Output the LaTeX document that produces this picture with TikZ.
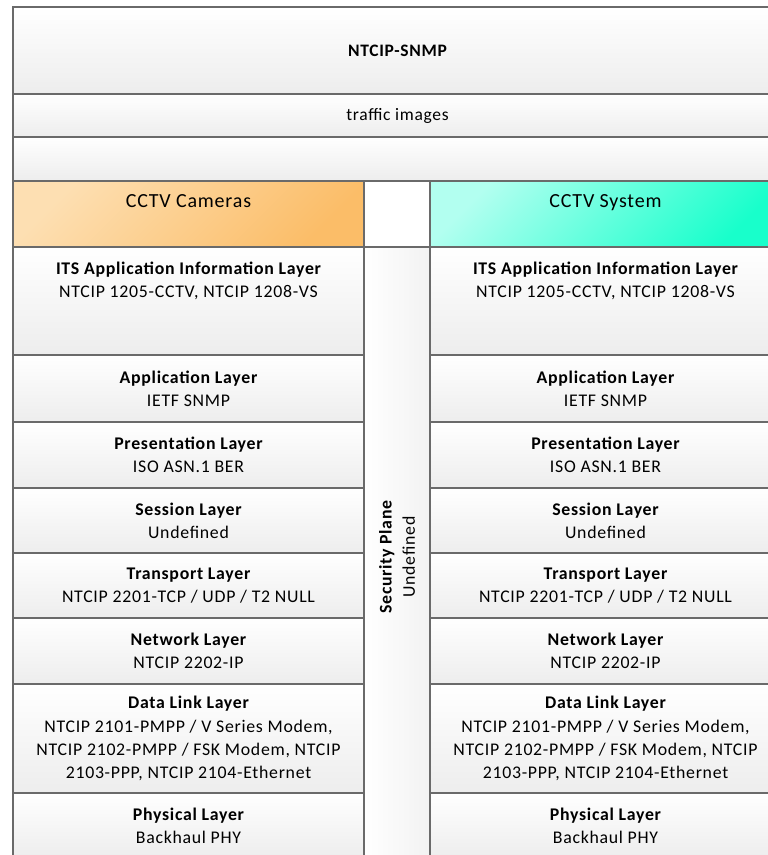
\documentclass[tikz,border=0pt]{standalone}
\usepackage{fontspec}
\setmainfont{Carlito}[LetterSpace=4]
\usetikzlibrary{positioning}
\definecolor{frame}{HTML}{6A6A6A}
\definecolor{boxgray}{HTML}{EDEDED}
\definecolor{camlight}{HTML}{FDDFB2}
\definecolor{camdark}{HTML}{FBBD68}
\definecolor{syslight}{HTML}{B2FFF0}
\definecolor{sysdark}{HTML}{18FFCB}

\begin{document}
\begin{tikzpicture}[
    x=1pt, y=-1pt,
    cell/.style={draw=frame, line width=1.2pt, anchor=north west,
        inner sep=0pt, outer sep=0pt, align=center,
        top color=white, bottom color=boxgray},
    band/.style={cell, minimum width=769pt, minimum height=#1,
        font=\fontsize{17.5}{20}\selectfont},
    layer/.style={cell, minimum width=351pt, minimum height=#1,
        font=\fontsize{17.8}{23.2}\selectfont},
    head/.style={cell, minimum width=351pt, minimum height=66pt,
        font=\fontsize{20}{24}\selectfont, text depth=26pt},
    lbl/.style={inner sep=0pt, align=center,
        font=\fontsize{17.8}{23.2}\selectfont}
]
    \useasboundingbox (0,0) rectangle (768,855);
    \clip (0,0) rectangle (768,855);

    % top bands
    \node[band=87pt] (snmp) at (13,7) {\bfseries NTCIP-SNMP};
    \node[band=43pt] (img) at (13,94) {traffic images};
    \node[band=44pt] (gap) at (13,137) {};

    % device headers
    \node[head, top color=camlight, bottom color=camdark, shading angle=45]
        (cam) at (13,181) {CCTV Cameras};
    \node[cell, top color=white, bottom color=white,
        minimum width=66pt, minimum height=66pt] (mid) at (364,181) {};
    \node[head, top color=syslight, bottom color=sysdark, shading angle=45]
        (sys) at (430,181) {CCTV System};

    % security plane
    \node[cell, left color=white, right color=boxgray!70,
        minimum width=66pt, minimum height=620pt] (sec) at (364,247) {};
    \node[lbl, rotate=90] at (sec.center)
        {\bfseries Security Plane\\Undefined};

    % CCTV Cameras stack
    \node[layer=108pt] (lits) at (13,247) {};
    \node[lbl, below=15pt of lits.north]
        {\bfseries ITS Application Information Layer\\NTCIP 1205-CCTV, NTCIP 1208-VS};
    \node[layer=67pt] (lapp) at (13,355)
        {\bfseries Application Layer\\IETF SNMP};
    \node[layer=66pt] (lpres) at (13,422)
        {\bfseries Presentation Layer\\ISO ASN.1 BER};
    \node[layer=65pt] (lses) at (13,488)
        {\bfseries Session Layer\\Undefined};
    \node[layer=65pt] (ltrans) at (13,553)
        {\bfseries Transport Layer\\NTCIP 2201-TCP / UDP / T2 NULL};
    \node[layer=66pt] (lnet) at (13,618)
        {\bfseries Network Layer\\NTCIP 2202-IP};
    \node[layer=109pt] (llink) at (13,684)
        {\bfseries Data Link Layer\\NTCIP 2101-PMPP / V Series Modem,\\
         NTCIP 2102-PMPP / FSK Modem, NTCIP\\2103-PPP, NTCIP 2104-Ethernet};
    \node[layer=66pt] (lphy) at (13,793)
        {\bfseries Physical Layer\\Backhaul PHY};

    % CCTV System stack
    \node[layer=108pt] (rits) at (430,247) {};
    \node[lbl, below=15pt of rits.north]
        {\bfseries ITS Application Information Layer\\NTCIP 1205-CCTV, NTCIP 1208-VS};
    \node[layer=67pt] (rapp) at (430,355)
        {\bfseries Application Layer\\IETF SNMP};
    \node[layer=66pt] (rpres) at (430,422)
        {\bfseries Presentation Layer\\ISO ASN.1 BER};
    \node[layer=65pt] (rses) at (430,488)
        {\bfseries Session Layer\\Undefined};
    \node[layer=65pt] (rtrans) at (430,553)
        {\bfseries Transport Layer\\NTCIP 2201-TCP / UDP / T2 NULL};
    \node[layer=66pt] (rnet) at (430,618)
        {\bfseries Network Layer\\NTCIP 2202-IP};
    \node[layer=109pt] (rlink) at (430,684)
        {\bfseries Data Link Layer\\NTCIP 2101-PMPP / V Series Modem,\\
         NTCIP 2102-PMPP / FSK Modem, NTCIP\\2103-PPP, NTCIP 2104-Ethernet};
    \node[layer=66pt] (rphy) at (430,793)
        {\bfseries Physical Layer\\Backhaul PHY};
\end{tikzpicture}
\end{document}
